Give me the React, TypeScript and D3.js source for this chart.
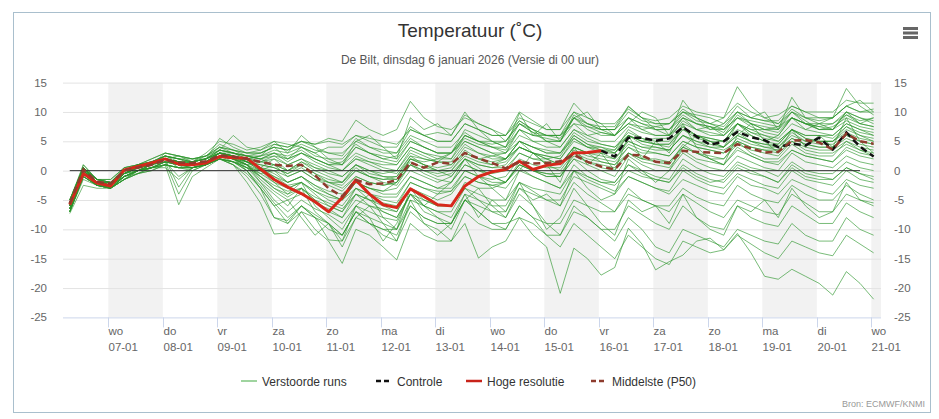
import React, { useEffect, useRef } from "react";
import * as d3 from "d3";

const chartTitle = "Temperatuur (˚C)";
const chartSubtitle = "De Bilt, dinsdag 6 januari 2026 (Versie di 00 uur)";
const creditText = "Bron: ECMWF/KNMI";
const dayNames = ["zo", "ma", "di", "wo", "do", "vr", "za"];
const yTicks = [-25, -20, -15, -10, -5, 0, 5, 10, 15];
const legendLabels = ["Verstoorde runs", "Controle", "Hoge resolutie", "Middelste (P50)"];

// first forecast step and step size (6-hourly output)
const runStart = new Date(2026, 0, 6, 7, 0);
const stepHours = 6;

const hogeResolutie = [
  -5.8, -0.5, -2.1, -2.6, 0.1, 0.7, 1.3, 2.0, 1.1, 1.0, 1.3, 2.4, 2.2, 2.1,
  0.3, -1.5, -2.8, -3.9, -5.3, -7.0, -4.6, -1.6, -4.0, -5.8, -6.3, -3.1, -4.4, -5.8,
  -6.0, -2.6, -1.0, -0.2, 0.2, 1.6, 0.2, 0.9, 1.2, 3.0, 3.1, 3.4,
];

const middelste = [
  -5.6, 0.2, -1.9, -2.2, 0.0, 0.5, 1.0, 1.8, 1.4, 1.3, 1.6, 2.6, 2.4, 2.0,
  1.5, 1.0, 0.8, 1.0, -0.8, -3.0, -4.4, -1.6, -2.3, -2.2, -1.6, 1.4, 0.5, 1.4,
  1.2, 3.0, 2.1, 1.3, 0.4, 1.5, 1.2, 1.3, 1.6, 2.7, 1.5, 0.7, 0.2, 2.7,
  2.6, 1.5, 1.3, 3.4, 3.2, 3.1, 3.0, 4.5, 3.8, 3.1, 3.2, 5.1, 5.2, 4.8, 3.6, 6.3, 5.0, 4.6,
];

// control run is only visible after the hi-res run ends
const controleStart = 39;
const controle = [
  3.4, 2.4, 5.6, 5.6, 5.1, 5.5, 7.4, 5.8, 4.4, 5.0, 6.6, 5.7, 5.2, 4.0, 4.6, 4.3, 5.6, 3.6, 6.5, 4.1, 2.4,
];

const verstoordeRuns: number[][] = [
  [-5,0.5,-1.5,-2,0,0.5,1.5,2.5,2,1.5,2,4,3,2.5,3,4,3.5,5,4,3,2.5,5.5,4,3,3,7,6,5,5,8,7,6,6,9,8,7,7,10,9,8,8,10.5,9,8.5,9,11,10,9.5,9,11.5,10,9,9.5,11,10,10,10,12,11.5,11.5],
  [-6,0,-2,-2.5,-0.5,0.5,1,2,1.5,1,1.5,3,2.5,2,2.5,4.5,4,5,4.5,5,4.5,6,5,4,4,7.5,6,6.5,6,9.5,8,7,5,8,6.5,6,6,9,8,7.5,7.5,11,9,8,8,10,9.5,9,8,10,9,8.5,8,10.5,9,9,9,11,10,10],
  [-5.5,1,-1.5,-2.5,-0.5,0,1,2,0.5,1.5,2.5,3.5,6,4,3.5,4.5,4,5,4.5,5.5,5,8.6,7,6,7,11.8,9,7.5,7,9,8,7,6,8.5,7,5,5,9,7,6,6,8,7.5,7,7,10,8.5,8,7,9,8.5,8,7.5,10,8,7.5,8,9.5,8.5,9],
  [-6.5,0.5,-2,-2,0,1,1,3,2.5,2,2,5.5,4,3,3,4,2,4,3,1.5,1,4,3,2,1.5,5,4,3,3,7,6,5,5,8,7,6,6,8,7.5,7,7,10,8.5,8,8,10,9,8,9,14.3,11,9,8,10,9,8.5,9,11,10,10.5],
  [-5.5,0.5,-2,-2.5,-0.5,0.5,1.5,2,1,1.5,2,3,3,2.5,2,3,1.5,3,2,1,0,2,1.5,1,1,4,3,2,2,6,5,4,4,8,6.5,5,5,9.5,8,7,7,9,8,7.5,8,10.5,9,8,7.5,10,9,8.5,8.5,11,10,9,9,14,11,9.5],
  [-6,0,-2.5,-2,0,0.5,1,1.5,-4,0,1,2.5,2,1,1.5,2.5,1,2,0.5,0,-1,1,0,-0.5,0,3,2,1.5,3,6,5,5,4,7,6,6,6,10,8,7,7,10.9,9,7,6,9,8,7.5,7,10,8,7,7.5,9,8,8,8,10,9,8.5],
  [-5,0.5,-1.5,-1.5,0.5,1,1.5,2,2.5,2,2.5,4,3.5,3,3.5,5,4.5,4,3,4,4,6,5.5,5,4.5,7,6,5,5,8,7,6,6,10,8.5,7,7,11.5,9,8,6,9,8,7,7,9,8,7.5,6.5,9.5,8,7,7,9,8,7.5,7,10,9,8],
  [-7,-0.5,-2.5,-3,-1,0,0.5,1.5,1,0.5,1,2.5,2,1.5,0.5,2,0,1,-0.5,-1.5,-2,0,-1,-1.5,-1,2,1,0.5,1,4,3,2.5,3,7,5,5,4,7,6,6.5,6,9,7,6,6,8,7,7.5,6,9,7.5,6.5,6,9,8,7,7,9.5,8,7.5],
  [-6,0.5,-2,-2.5,0,0.5,1,2.5,2,1,1.5,3.5,3,2,2.5,3.5,3,4,2.5,2,2,4.5,3,2.5,2,5,4,3,3,5.5,4.5,4,3.5,7,6,5.5,5,8,6,5,5,7.5,6.5,6,6,9,7,6.5,6,8,7,7,6.5,9,8,7,7,8.5,7.5,7],
  [-6.5,-0.5,-2,-3,-1,0,0.5,0.5,-1.5,0.5,1,2,1.5,0.5,0,1,-1,0,-1.5,-2,-3,-1,-2,-2.5,-2,1,0,-0.5,0,3,2,1.5,2,5,4,3.5,3,6.5,5,4.5,4,6,5,5.5,5.5,8.5,7,6,6,8,7,6,5.5,8,7,6.5,6,8,7,6.5],
  [-5.5,0,-2,-2,0,0.5,1,2,1.5,1.5,2,3,2.5,2,2,3,2,3,2,1,1,3,2,1.5,1,4,3,2.5,2,5,4,3,3,6,5,4,4,7,5.5,4.5,4,6.5,5.5,5,5,7.5,6,5.5,5,8,6.5,6,5,7,6,6,6,8,7,6],
  [-7,-1,-2.5,-3,-1.5,0,0.5,1,0.5,0.5,1,2,1.5,0.5,-0.5,0,-2,-1,-2.5,-3.5,-4,-2,-3,-3.5,-3,0,-1,-2,-1,2,1,0.5,1,4,3,2.5,2,5.5,4,4,3,6,5,4.5,4.5,7,6,5.5,5,8,6.5,5.5,5,7,6,6,5.5,7.5,6.5,6],
  [-6,0,-2,-2.5,-0.5,1,1.5,2.5,1.5,1,1.5,2.5,2.5,2,1.5,2,1,2,1,0,0,2,1,0,-0.5,2.5,2,1.5,1,3,2,2.5,2,5,4,3,3,6,4.5,4,3.5,6,5,4.5,4,7,5.5,5,5,7,6,5,4.5,7,5.5,5,5,7,6,5.5],
  [-6.5,0,-2,-2.5,-1,0,1,1.5,1,1,1.5,2.5,2,1,0,-1,-2.5,-2,-3.5,-4.5,-5,-3,-4,-4.5,-4.5,-1,-2,-3,-2,1,0,-0.5,0,3,2,1.5,1,4,3,3,2,5,4,4,3.5,6,5,4.5,4,6.5,5,4.5,4,6.5,5,5,5,6.5,5.5,5],
  [-5.5,0.5,-1.5,-2,0,1,1,2,1.5,1.5,2,3,2.5,1.5,1,0.5,-0.5,0.5,-1,-2,-2.5,0,-1,-1.5,-1.5,1.5,0.5,0,0,2.5,1.5,1,1.5,4,3,2.5,2,5,4,3.5,3,5,4,3.5,3.5,6,4.5,4,4,6,5,4,4,6,5,4.5,4.5,6,5,4.5],
  [-5,0.5,-1.5,-2,0.5,1,2,3,2.5,2,2.5,4.5,3.5,3,3,4,3.5,4.5,3.5,3,3,5,4,3.5,3,6,5,4,4,6.5,5,4,3,5,4,3,3,5.5,4,3,3,6,4.5,4,3.5,6,5,4,3.5,5,4,3.5,3.5,5.5,4.5,4,4,6,5,4.5],
  [-7,-1,-2.5,-3,-1,0,0.5,1.5,1,0.5,1,2,1.5,0.5,-1,-2.5,-3.5,-3,-4.5,-5.5,-6.5,-4,-5,-5.5,-6,-2,-3,-4,-3.5,0,-1,-1.5,-1,2,1,0.5,0.5,3.5,2.5,2,1.5,4,3,3,2.5,5,4,3.5,3,5.5,4.5,4,3.5,5.5,4.5,4,4,5.5,4.5,4],
  [-6,0,-2,-2.5,-0.5,0.5,1,2,1.5,1,1.5,3,2.5,1.5,0.5,0,-1,0,-1.5,-2.5,-3.5,-1,-2,-2.5,-2,1,0,-1,-0.5,2,1,0.5,0.5,3,2,2,1,4,3,2.5,2,4.5,3.5,3,2.5,5,4,3.5,3,5,4,3.5,3,5,4,3.5,3.5,5,4,3.5],
  [-7.3,-2.5,-3,-3,-1.5,-0.5,0,1,-5.8,-1,0.5,2,1.5,1,-1.5,-3.5,-5,-4,-5.5,-6.5,-8,-5,-6,-6.5,-7,-3,-4,-5,-4,-1,-2,-2.5,-2,1,0,-0.5,-0.5,2.5,1.5,1,0.5,3,2,2,1.5,4,3,2.5,2,4.5,3.5,3,2.5,5,3.5,3,3,4.5,3.5,3],
  [-5,0.5,-1.5,-1.5,0.5,1,1.5,2,-2.8,0.5,1.5,3,2.5,2,1.5,1,0,1.5,0.5,-0.5,-1,1,0,-1,-1.5,2,1,0,0.5,3.5,2,1,2,5,3,1,0,3,2,1.5,1,4,2.5,1.5,1,4.5,3,2,2,5,3,2,2,4.5,3,2.5,2.5,5,3.5,2.5],
  [-6.5,-0.5,-2.5,-3,-1,0,1,2,1,0.5,1,2.5,2,0.5,-2,-5,-7,-5,-6.5,-7.5,-9,-6,-7,-8,-8.5,-4,-5,-6,-6,-2,-3,-3,-2,1,0,-1,-1,3,1.5,0.5,0,3,1.5,1,0.5,3.5,2,1.5,1,4,2.5,1.5,1,3.5,2.5,2,1.5,4,3,2.5],
  [-6,0,-2,-2.5,-0.5,0.5,1,2,1.5,1.5,2,3.5,3,2,0.5,-0.5,-2,-1,-2.5,-4,-5,-2,-3,-4,-4,-1,-2,-3,-3,0,-1,-2,-2,1,0,-0.5,-1,2,1,0,-1,2.5,1,0,0,3,1.5,0.5,0,2.5,1.5,0.5,0,3,1.5,1,0.5,2.5,1.5,1],
  [-7,-1,-2.5,-3,-1.5,-0.5,0.5,1,0.5,0,1,2,1,-2,-5.5,-10.8,-10.6,-7,-8,-9,-11,-7,-8,-9,-10,-5,-6,-7,-8,-4,-5,-6,-6,-2,-3,-3.5,-4,0,-1,-2,-2,1,0,-1,-1.5,2,0.5,-0.5,-1,1.5,0.5,0,-1,1.5,0,-0.5,-0.5,1.5,0.5,0],
  [-5.5,0,-2,-2,0,0.5,1,2,1.5,1,1.5,3,2.5,1.5,0,-2,-3,-2,-3.5,-5,-6,-3,-4,-5,-5.5,-2,-3,-3.5,-3.5,-1,-2,-2.5,-3,0,-1,-2,-3,1,-1,-2,-2.5,0,-1,-1.5,-2,1,-0.5,-1.5,-2,0.5,-0.5,-1,-2,0.5,-1,-1.5,-1.5,0.5,-0.5,-1],
  [-6.5,-0.5,-2,-2.5,-1,0,0.5,1.5,1,1,1.5,2.5,2,0,-3,-8,-8.5,-6,-7.5,-9,-11,-7,-9,-10,-11,-6,-8,-9,-9,-5,-6,-7,-7,-3,-4,-5,-5,-1,-2,-3,-4,-1,-2,-3,-3.5,0,-1.5,-2.5,-3,-0.5,-1.5,-2.5,-3,0,-1.5,-2,-2.5,0,-1.5,-2],
  [-6,0.5,-2,-2.5,-0.5,0.5,1,2.5,2,1.5,2,3.5,3,2.5,2,1,0,1.5,0,-1,-2,0.5,-1,-2,-2.5,1,-0.5,-1.5,-2,1,0,-1,-2,0.5,-1,-2,-3,0,-1.5,-2.5,-3.5,-1,-2,-3,-4,-1.5,-2.5,-3.5,-4,-1,-2.5,-3,-4,-1.5,-2.5,-3.5,-4,-1.5,-2.5,-3],
  [-7,-1,-2.5,-3,-1.5,-0.5,0,1,0.5,0.5,1,2,1,-1,-4,-8,-9,-6,-8,-11.8,-12,-8,-9,-11,-12,-7,-9,-10,-12,-7,-9,-10,-10,-6,-8,-9,-9,-5,-6,-7,-7,-4,-5,-6,-6,-3,-4.5,-5.5,-6,-2.5,-4,-5,-5.5,-2.5,-4,-5,-5,-2.5,-4,-5],
  [-6,0,-2.5,-2.5,-0.5,0,1,2,1,1,1.5,3,2.5,1,-1,-3,-4.5,-3,-5,-6,-7,-4,-5,-6,-7,-3,-5,-6,-6,-3,-4,-5,-5,-2,-3.5,-5,-6,-2,-4,-5.5,-7,-3,-5,-6,-7,-4,-5.5,-7,-8,-5,-6,-7,-7.5,-4,-5.5,-7,-7,-4,-5,-5.5],
  [-6.5,-0.5,-2,-3,-1,0,0.5,1,0.5,0.5,1,2.5,1.5,0,-3,-6,-9,-7,-10,-12,-15.8,-10,-11,-13,-15.2,-9,-11,-12,-12,-9,-14.9,-13,-12,-8,-9,-11,-11,-7,-8,-10,-10,-6,-7.5,-9,-10,-6,-8,-9.5,-10,-6,-8,-9,-9.5,-6,-7.5,-9,-9,-5.5,-7,-8],
  [-6,0,-2,-2.5,-1,0,0.5,1.5,1,1,1.5,2.5,2,1,-0.5,-2,-4,-3,-5,-7,-8,-4,-6,-7,-8,-4,-6,-7,-7,-3,-5,-7,-8,-4,-6,-9,-11,-6,-8,-10,-12,-8,-10,-13,-14,-10,-11,-12,-13,-10,-11,-12,-12.5,-9,-11,-12,-12,-8,-10,-11],
  [-7,-1,-2.5,-3,-1.5,0,0.5,1,0.5,0.5,1,2,1.5,0,-2.5,-5.5,-8,-6,-8,-10,-11,-7,-9,-10,-10,-6,-8,-9,-9,-5,-7,-9,-10,-6,-8,-11,-13,-9,-11,-13,-15,-11,-13,-15,-16,-12,-13,-14,-13.5,-11,-12.5,-14,-15,-12,-13,-14,-14.5,-11,-12.5,-14],
  [-6.5,0,-2,-2.5,-0.5,0.5,1,2,1.5,1,1.5,3,2.5,1.5,0,-1.5,-3,-2,-4,-6,-7,-3,-5,-7,-8,-4,-6,-8,-9,-5,-7,-9,-9,-8,-11,-13,-20.9,-13.2,-15,-17.8,-16.5,-9.8,-12.5,-16.9,-15.5,-14.4,-12,-11.5,-13.5,-10.7,-14,-18,-18.5,-16.8,-18,-19.2,-21.2,-17.2,-19.2,-21.9],
  [-5.5,0.5,-2,-2,0,1,1.5,2.5,2,1.5,2,3.5,3,2.5,2,2.5,2,3,1.5,0.5,0,2.5,1.5,0.5,0,3.5,2.5,1.5,1.5,4.5,3,2,2,4,3,2,2.5,6,4.5,3.5,3.5,7,5.5,4.5,4.5,7.5,6,5,4,6,5,4.5,4.5,7,5.5,5,5,7.5,6,5],
  [-6,-0.5,-2.5,-2.5,-1,0,1,2,1.5,1,1.5,2.5,2,1.5,0.5,-1,-2,-1,-3,-4,-5,-2,-3,-3.5,-2,2,1.5,2,3,6,5,4.5,5,8.5,7,6,5.5,9,7.5,6.5,6,8,7,7.5,7,9.5,8,7,7,9,8,7.5,7,10,8.5,7,7.5,9,8,7.5],
  [-5,1,-1.5,-2,0,1,1.5,2.5,2,2,2.5,4,3.5,2.5,2.5,3,2.5,3.5,2,1,1.5,4,3,2,2.5,5.5,4,3,3,5,4,3,2,4,3,2,1,4,3,1.5,1,3,2,1.5,1.5,4,3,2,1,3.5,2.5,1.5,1.5,3.5,2.5,2,1.5,3.5,2.5,2],
  [-6.5,0,-2,-2.5,-0.5,0.5,1,2,1.5,1,1.5,3,2.5,1.5,1,0.5,-0.5,1,-0.5,-2,-2,1,-0.5,-1,-1,2.5,1,0,-1,2,0.5,-1,-2,1.5,0,-1,-1,2,0,-1.5,-2,1,-0.5,-1.5,-2,0.5,-1,-2,-1.5,1,0,-1,-2,1,-0.5,-1,-1.5,0.5,-0.5,-1.5],
  [-6,0.5,-2,-3,-0.5,0.5,1,2,1,1.5,2,3,2,1,-2,-4,-6,-3,-7,-9,-12,-6,-4,-8,-10,-3,-6,-4,-2,2,-1,-3,-5,0,3,1,-2,4,1,3,0,6,2,5,3,8,4,2,1,6,8,5,3,7,4,6,4,9,5,3],
  [-5.5,0,-1.5,-2,0,1,2,3,2.5,1.5,3,5,4.5,3.5,4,5,3,6,4,2,1,5,6,4,2,9,7,8,6,10,7,5,4,9.8,6,8,5,9,10,7,6,8,10,9,6,12,9,7,8,11,9,10,7,12.5,9,8,9,11,12,10],
  [-7,-1.5,-2.5,-2.5,-1,-0.5,0.5,1.5,-1,0.5,1,2,1,-0.5,-3,-6,-5,-8,-11,-9,-13,-8,-6,-9,-12,-5,-9,-11,-9,-4,-8,-5,-7,-2,-6,-10,-8,-3,-6,-9,-11,-5,-7,-6,-9,-4,-8,-10,-11,-6,-7,-5,-8,-3,-6,-8,-7,-2,-5,-6],
  [-6,0,-2,-2.5,-0.5,0.5,1,2,1.5,1,1.5,2.5,2,1,-1,-3,-4,-2,-6,-8,-10,-6,-8,-12,-9,-4,-7,-8,-10,-5,-3,-6,-8,-3,-5,-4,-6,0,-3,-5,-4,2,0,-2,0,4,6,5,4,8,6,5,6,9,7,8,7,10,8,9],
];

export default function App() {
  const ref = useRef<SVGSVGElement>(null);

  useEffect(() => {
    const W = 939;
    const H = 419;
    const plot = { left: 63, right: 881, top: 82.6, bottom: 317.4 };
    const font = "'Liberation Sans', Arial, Helvetica, sans-serif";

    const svg = d3.select(ref.current);
    svg.selectAll("*").remove(); // Clear
    svg.attr("width", W).attr("height", H).style("font-family", font);

    const x = d3
      .scaleTime()
      .domain([new Date(2026, 0, 6, 4, 2), new Date(2026, 0, 21, 4, 15)])
      .range([plot.left, plot.right]);
    const y = d3.scaleLinear().domain([-25, 15]).range([plot.bottom, plot.top]);
    const stepTime = (i: number) => d3.timeHour.offset(runStart, i * stepHours);

    // frame
    svg
      .append("rect")
      .attr("x", 13.5)
      .attr("y", 12.5)
      .attr("width", 917)
      .attr("height", 400)
      .attr("fill", "#fff")
      .attr("stroke", "#a9bfcd")
      .attr("stroke-width", 1);

    svg
      .append("defs")
      .append("clipPath")
      .attr("id", "plot-clip")
      .append("rect")
      .attr("x", plot.left)
      .attr("y", plot.top - 2)
      .attr("width", plot.right - plot.left)
      .attr("height", plot.bottom - plot.top + 4);

    // alternating day bands
    const days = d3.timeDay.range(new Date(2026, 0, 7), new Date(2026, 0, 22));
    svg
      .append("g")
      .selectAll("rect")
      .data(days.filter((_, i) => i % 2 === 0))
      .enter()
      .append("rect")
      .attr("x", (d) => x(d))
      .attr("y", plot.top)
      .attr("width", (d) => Math.min(x(d3.timeDay.offset(d, 1)), plot.right) - x(d))
      .attr("height", plot.bottom - plot.top)
      .attr("fill", "#f2f2f2");

    // horizontal grid
    svg
      .append("g")
      .selectAll("line")
      .data(yTicks.filter((v) => v !== -25))
      .enter()
      .append("line")
      .attr("x1", plot.left)
      .attr("x2", plot.right)
      .attr("y1", (d) => y(d) + 0.5)
      .attr("y2", (d) => y(d) + 0.5)
      .attr("stroke", "#e3e3e3");

    // y labels left + right
    const yl = svg.append("g").style("font-size", "11.5px").attr("fill", "#666");
    yTicks.forEach((v) => {
      yl.append("text").attr("x", 47).attr("y", y(v) + 4).attr("text-anchor", "end").text(v);
      yl.append("text").attr("x", 894).attr("y", y(v) + 4).attr("text-anchor", "start").text(v);
    });

    // x axis
    const xa = svg.append("g");
    xa.append("line")
      .attr("x1", plot.left)
      .attr("x2", plot.right)
      .attr("y1", plot.bottom + 0.5)
      .attr("y2", plot.bottom + 0.5)
      .attr("stroke", "#ccd6eb");
    const tick = xa
      .selectAll("g.tick")
      .data(days)
      .enter()
      .append("g")
      .attr("class", "tick")
      .attr("transform", (d) => `translate(${Math.round(x(d)) + 0.5},0)`);
    tick
      .append("line")
      .attr("y1", plot.bottom)
      .attr("y2", plot.bottom + 10)
      .attr("stroke", "#ccd6eb");
    tick
      .append("text")
      .attr("x", 0)
      .attr("y", 335)
      .attr("fill", "#666")
      .style("font-size", "11.5px")
      .text((d) => dayNames[d.getDay()]);
    tick
      .append("text")
      .attr("x", 0)
      .attr("y", 351)
      .attr("fill", "#666")
      .style("font-size", "11.5px")
      .text((d) => d3.timeFormat("%d-%m")(d));

    const lines = svg.append("g").attr("clip-path", "url(#plot-clip)");
    const line = (offset: number) =>
      d3
        .line<number>()
        .x((_, i) => x(stepTime(i + offset)))
        .y((d) => y(d));

    lines
      .append("g")
      .selectAll("path")
      .data(verstoordeRuns)
      .enter()
      .append("path")
      .attr("d", (d) => line(0)(d))
      .attr("fill", "none")
      .attr("stroke", "#2a952a")
      .attr("stroke-opacity", 0.75)
      .attr("stroke-width", 0.85);

    // zero line
    lines
      .append("line")
      .attr("x1", x(stepTime(0)))
      .attr("x2", x(stepTime(58)))
      .attr("y1", y(0))
      .attr("y2", y(0))
      .attr("stroke", "#333")
      .attr("stroke-width", 1);

    lines
      .append("path")
      .attr("d", line(controleStart)(controle))
      .attr("fill", "none")
      .attr("stroke", "#111")
      .attr("stroke-width", 2.5)
      .attr("stroke-dasharray", "7,4");

    lines
      .append("path")
      .attr("d", line(0)(hogeResolutie))
      .attr("fill", "none")
      .attr("stroke", "#d7281c")
      .attr("stroke-width", 3)
      .attr("stroke-linejoin", "round");

    lines
      .append("path")
      .attr("d", line(0)(middelste))
      .attr("fill", "none")
      .attr("stroke", "#8e3c2e")
      .attr("stroke-width", 2.5)
      .attr("stroke-dasharray", "7,4");

    // title, subtitle
    svg
      .append("text")
      .attr("x", 470)
      .attr("y", 37)
      .attr("text-anchor", "middle")
      .attr("fill", "#333")
      .style("font-size", "19px")
      .text(chartTitle);
    svg
      .append("text")
      .attr("x", 470)
      .attr("y", 64)
      .attr("text-anchor", "middle")
      .attr("fill", "#555")
      .style("font-size", "12px")
      .text(chartSubtitle);

    // menu icon
    [27, 31.5, 36].forEach((yy) =>
      svg.append("rect").attr("x", 903).attr("y", yy).attr("width", 15).attr("height", 3).attr("fill", "#666")
    );

    // legend
    const legendStyle = [
      { x: 241, stroke: "#9fd49f", dash: null, w: 2 },
      { x: 376, stroke: "#111", dash: "5,3", w: 2.5 },
      { x: 466, stroke: "#c8231a", dash: null, w: 2.5 },
      { x: 591, stroke: "#8e3c2e", dash: "5,3", w: 2.5 },
    ];
    const lg = svg.append("g");
    legendLabels.forEach((label, i) => {
      const s = legendStyle[i];
      lg.append("line")
        .attr("x1", s.x)
        .attr("x2", s.x + 16)
        .attr("y1", 381)
        .attr("y2", 381)
        .attr("stroke", s.stroke)
        .attr("stroke-width", s.w)
        .attr("stroke-dasharray", s.dash);
      lg.append("text")
        .attr("x", s.x + 21)
        .attr("y", 385.5)
        .attr("fill", "#333")
        .style("font-size", "12px")
        .text(label);
    });

    svg
      .append("text")
      .attr("x", 925)
      .attr("y", 407)
      .attr("text-anchor", "end")
      .attr("fill", "#999")
      .style("font-size", "9px")
      .text(creditText);
  }, []);

  return (
    <div style={{ position: "fixed", left: 0, top: 0, background: "#fff" }}>
      <svg ref={ref}></svg>
    </div>
  );
}
